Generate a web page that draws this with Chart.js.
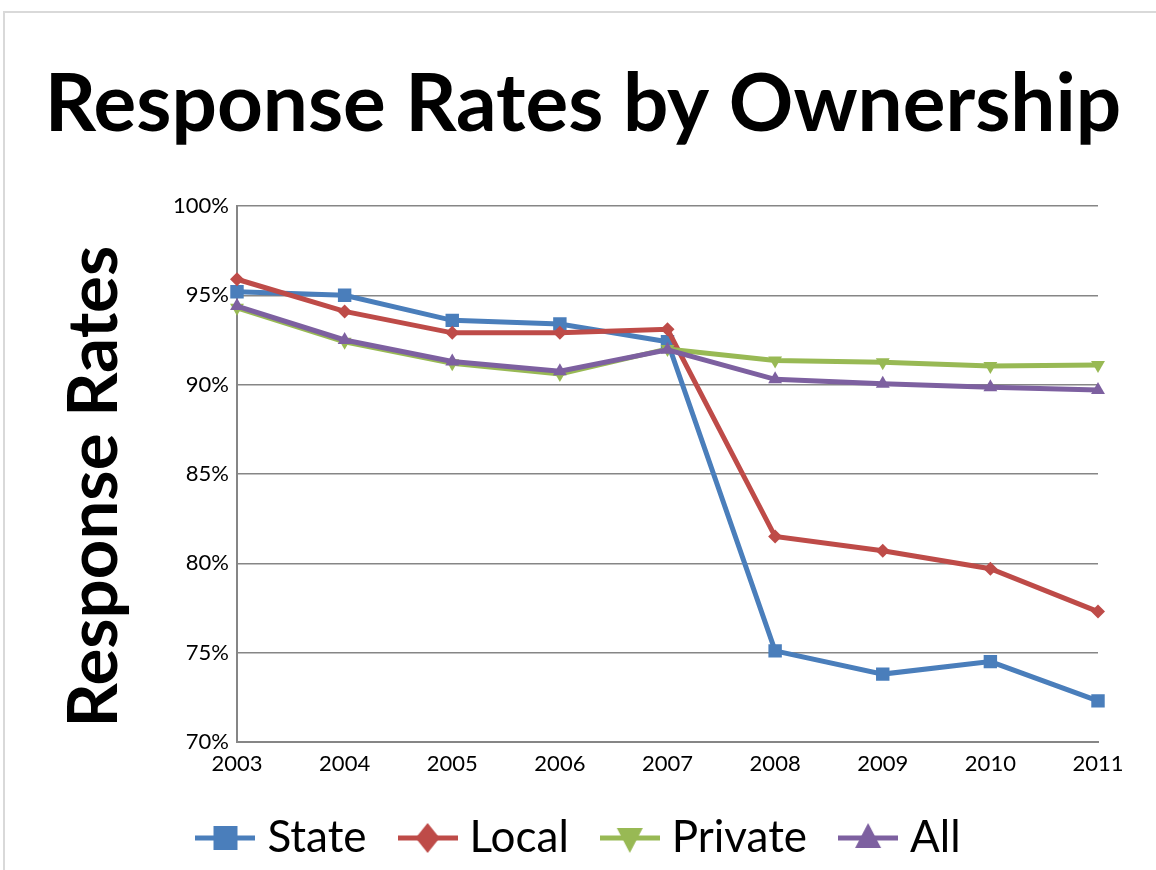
<!DOCTYPE html>
<html><head><meta charset="utf-8">
<script src="https://cdn.jsdelivr.net/npm/chart.js@4"></script>
<style>
html,body{margin:0;padding:0;background:#fff;}
#wrap{position:relative;width:1156px;height:870px;overflow:hidden;background:#fff;}
#frame{position:absolute;left:3px;top:11px;width:1200px;height:900px;border:2px solid #d9d9d9;box-sizing:border-box;}
#c{position:absolute;left:0;top:0;}
</style></head>
<body><div id="wrap"><div id="frame"></div><canvas id="c" width="1156" height="870"></canvas></div>
<script>
const years = ['2003','2004','2005','2006','2007','2008','2009','2010','2011'];
const stateRates   = [95.2, 95.0, 93.6, 93.4, 92.4, 75.1, 73.8, 74.5, 72.3];
const localRates   = [95.9, 94.1, 92.9, 92.9, 93.1, 81.5, 80.7, 79.7, 77.3];
const privateRates = [94.3, 92.4, 91.2, 90.6, 92.0, 91.35, 91.25, 91.05, 91.1];
const allRates     = [94.4, 92.5, 91.3, 90.75, 91.95, 90.3, 90.05, 89.85, 89.7];
const seriesNames  = ['State','Local','Private','All'];
const yTicksPct    = [70, 75, 80, 85, 90, 95, 100];

const colors = ['#4A7EBB','#BE4B48','#98B954','#7D60A0'];
const FONT = 'Lato, Carlito, "Liberation Sans", sans-serif';

function legendIcon(color, style, rot){
  const c = document.createElement('canvas');
  c.width = 60; c.height = 40;
  const ctx = c.getContext('2d');
  ctx.strokeStyle = color; ctx.lineWidth = 5;
  ctx.beginPath(); ctx.moveTo(0,20); ctx.lineTo(60,20); ctx.stroke();
  ctx.fillStyle = color;
  ctx.save(); ctx.translate(30,20); ctx.rotate(rot||0);
  ctx.beginPath();
  if (style==='rect'){ ctx.rect(-12,-12,24,24); }
  else if (style==='diamond'){ ctx.moveTo(0,-15); ctx.lineTo(12,0); ctx.lineTo(0,15); ctx.lineTo(-12,0); ctx.closePath(); }
  else if (style==='tri'){ ctx.moveTo(0,-15); ctx.lineTo(13,10); ctx.lineTo(-13,10); ctx.closePath(); }
  ctx.fill();
  ctx.restore();
  return c;
}
const icons = [
  legendIcon(colors[0],'rect'),
  legendIcon(colors[1],'diamond'),
  legendIcon(colors[2],'tri',Math.PI),
  legendIcon(colors[3],'tri')
];

function ds(i, data, pointStyle, radius, rot, order){
  return {
    label: seriesNames[i], data, borderColor: colors[i], backgroundColor: colors[i],
    borderWidth: 5, pointStyle, pointRadius: radius, pointRotation: rot,
    pointBackgroundColor: colors[i], pointBorderColor: colors[i], pointBorderWidth: 0,
    tension: 0, order, yAxisID: 'y'
  };
}

new Chart(document.getElementById('c'), {
  type: 'line',
  data: {
    labels: years,
    datasets: [
      ds(0, stateRates, 'rect', 9.5, 0, 3),
      ds(1, localRates, 'rectRot', 7, 0, 2),
      ds(2, privateRates, 'triangle', 8, 180, 1),
      ds(3, allRates, 'triangle', 8, 0, 0)
    ]
  },
  options: {
    responsive: false, animation: false, devicePixelRatio: 1,
    layout: { padding: { left: 10, right: 0, top: 22, bottom: 0 } },
    plugins: {
      tooltip: { enabled: false },
      title: {
        display: true, text: 'Response Rates by Ownership', color: '#000',
        font: { family: FONT, size: 80, weight: 'bold', lineHeight: 1 },
        padding: { top: 43, bottom: 61 }
      },
      legend: {
        position: 'bottom',
        labels: {
          color: '#000', font: { family: FONT, size: 44 },
          usePointStyle: true, pointStyleWidth: 40, boxHeight: 40, padding: 41,
          sort: (a,b) => a.datasetIndex - b.datasetIndex,
          generateLabels: (chart) => chart.data.datasets.map((d,i) => ({
            text: d.label, fillStyle: d.borderColor, strokeStyle: d.borderColor,
            lineWidth: 0, pointStyle: icons[i], datasetIndex: i, hidden: false, fontColor: '#000'
          }))
        }
      }
    },
    scales: {
      x: {
        type: 'category', offset: false,
        grid: { display: false, drawTicks: false },
        border: { display: true, color: '#868686', width: 2 },
        ticks: { color: '#000', font: { family: FONT, size: 22 }, padding: 9, maxRotation: 0, autoSkip: false },
        afterFit: (s) => { s.height = 33; }
      },
      y: {
        min: 70, max: 100,
        afterBuildTicks: (s) => { s.ticks = yTicksPct.map(v => ({ value: v })); },
        grid: { color: '#868686', lineWidth: 1.5, drawTicks: false },
        border: { display: true, color: '#868686', width: 2 },
        ticks: { color: '#000', font: { family: FONT, size: 22 }, padding: 8, callback: (v) => v + '%' },
        title: {
          display: true, text: 'Response Rates \u2009', color: '#000',
          font: { family: FONT, size: 69, weight: 'bold', lineHeight: 1 },
          padding: { top: 50, bottom: 0 }
        },
        afterFit: (s) => { s.width = 227; }
      },
      yRight: {
        position: 'right', min: 70, max: 100,
        grid: { display: false, drawTicks: false },
        border: { display: false },
        ticks: { display: false },
        afterFit: (s) => { s.width = 58; }
      }
    }
  }
});
</script>
</body></html>
